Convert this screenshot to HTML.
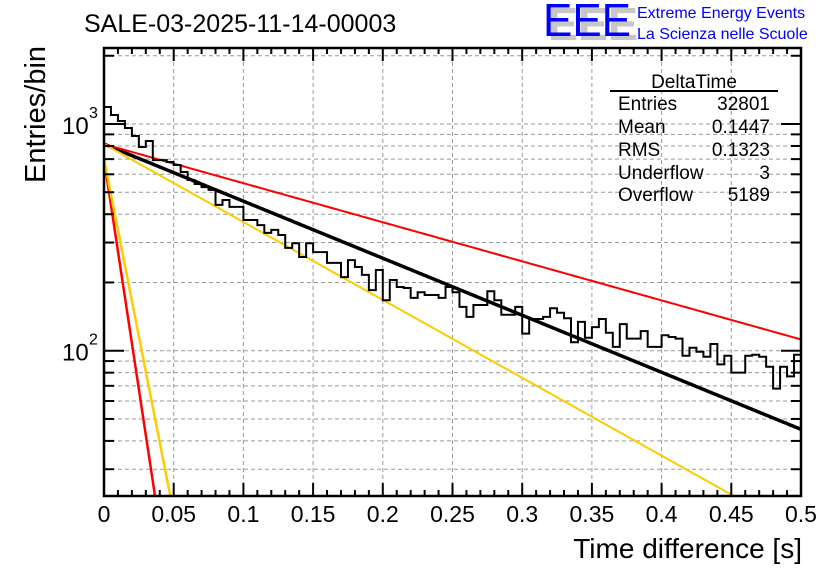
<!DOCTYPE html>
<html><head><meta charset="utf-8"><style>
html,body{margin:0;padding:0;background:#fff;}
svg{display:block;font-family:"Liberation Sans",sans-serif;}
</style></head><body>
<svg id="chart" width="836" height="572" viewBox="0 0 836 572">
<g id="grid"></g>
<g id="fits"></g>
<g id="hist"></g>
<g id="axes"></g>
<text x="84" y="32" font-size="25">SALE-03-2025-11-14-00003</text>
<g>
<text x="548" y="40" font-size="46" fill="#c8c8c8" font-weight="bold" textLength="90" lengthAdjust="spacingAndGlyphs">EEE</text>
<text x="543" y="36" font-size="46" fill="#0000ff" textLength="88" lengthAdjust="spacingAndGlyphs">EEE</text>
<text x="637" y="18" font-size="16" fill="#0000ff">Extreme Energy Events</text>
<text x="637" y="39" font-size="16" fill="#0000ff">La Scienza nelle Scuole</text>
</g>
<g font-size="19">
<text x="694" y="88" text-anchor="middle">DeltaTime</text>
<line x1="610" y1="91" x2="778" y2="91" stroke="#000" stroke-width="2"/>
<text x="618" y="110">Entries</text><text x="770" y="110" text-anchor="end">32801</text>
<text x="618" y="133">Mean</text><text x="770" y="133" text-anchor="end">0.1447</text>
<text x="618" y="156">RMS</text><text x="770" y="156" text-anchor="end">0.1323</text>
<text x="618" y="179">Underflow</text><text x="770" y="179" text-anchor="end">3</text>
<text x="618" y="201">Overflow</text><text x="770" y="201" text-anchor="end">5189</text>
</g>
<text x="802" y="558" font-size="28" text-anchor="end">Time difference [s]</text>
<text transform="translate(45,183) rotate(-90)" font-size="29">Entries/bin</text>
</svg>
<script>
const binCounts = [1189,1096,1031,960,885,792,841,693,693,680,
659,614,566,544,527,512,440,462,431,431,
377,377,358,331,341,324,284,298,259,298,
272,272,244,244,211,251,234,216,185,227,
167,205,191,189,171,181,176,176,171,191,
181,156,141,159,159,183,167,144,144,156,
119,138,138,141,154,147,139,109,134,114,
127,138,120,104,131,113,113,122,104,104,
117,115,113,95,103,99,94,107,87,95,
80,80,95,96,94,85,68,85,77,96];
const xRange = [0, 0.5];
const xTickLabels = ["0","0.05","0.1","0.15","0.2","0.25","0.3","0.35","0.4","0.45","0.5"];
const xTickValues = [0,0.05,0.1,0.15,0.2,0.25,0.3,0.35,0.4,0.45,0.5];
const yDecades = [2,3];
const fitAmps = [815,815,815,700,700];
const fitTaus = [0.1726,0.252,0.1264,0.0107,0.0139];
const fitColors = ["#000","#ff0000","#ffcc00","#ff0000","#ffcc00"];
const fitWidths = [3.5,2,2,2.5,2.5];
const fitNames = ["fit-total","fit-slow-red","fit-slow-yellow","fit-fast-red","fit-fast-yellow"];

const L=104,R=801,T=48,B=496;
const yTop3=124, dec=226.7;
const yMin=Math.pow(10,3-(B-yTop3)/dec), yMax=Math.pow(10,3+(yTop3-T)/dec);
const NS="http://www.w3.org/2000/svg";
function X(v){return L+(v-xRange[0])/(xRange[1]-xRange[0])*(R-L);}
function Y(v){return yTop3+(3-Math.log10(v))*dec;}
function mk(tag,attrs,parent){const e=document.createElementNS(NS,tag);for(const k in attrs)e.setAttribute(k,attrs[k]);parent.appendChild(e);return e;}
const grid=document.getElementById('grid'),axes=document.getElementById('axes'),hist=document.getElementById('hist'),fits=document.getElementById('fits');

// x grid + ticks
for(let i=0;i<xTickValues.length;i++){
  const x=X(xTickValues[i]);
  if(i>0&&i<xTickValues.length-1){const g=mk('line',{x1:x,y1:T,x2:x,y2:B,stroke:'#999','stroke-dasharray':'4,3','stroke-width':1},grid);
  
  }
  const t=mk('text',{x:x,y:522,'font-size':23,'text-anchor':'middle'},axes);
  t.textContent=xTickLabels[i];
  
  
}
for(let k=0;k<=50;k++){
  const x=X(k*0.01);const len=(k%5===0)?13:6;
  mk('line',{x1:x,y1:B,x2:x,y2:B-len,stroke:'#000','stroke-width':2},axes);
  mk('line',{x1:x,y1:T,x2:x,y2:T+len,stroke:'#000','stroke-width':2},axes);
}
// y ticks
for(let d=1;d<=3;d++){
  for(let m=1;m<=9;m++){
    const v=m*Math.pow(10,d);
    if(v<yMin||v>yMax)continue;
    const y=Y(v);const len=m===1?20:10;
    const g=mk('line',{x1:L,y1:y,x2:R,y2:y,stroke:'#999','stroke-dasharray':'4,3','stroke-width':1},grid);
    
    
    mk('line',{x1:L,y1:y,x2:L+len,y2:y,stroke:'#000','stroke-width':2},axes);
    mk('line',{x1:R,y1:y,x2:R-len,y2:y,stroke:'#000','stroke-width':2},axes);
  }
}
yDecades.forEach(d=>{
  const y=Y(Math.pow(10,d));
  const t=mk('text',{x:62,y:y+10,'font-size':24},axes);
  t.textContent='10';
  
  
  const s=mk('text',{x:89,y:y-6,'font-size':16},axes);s.textContent=String(d);
});
// frame
const fr=mk('rect',{x:L,y:T,width:R-L,height:B-T,fill:'none',stroke:'#000','stroke-width':2.5},axes);



// histogram
const n=binCounts.length,bw=(xRange[1]-xRange[0])/n;
let d='';
for(let i=0;i<n;i++){
  const x0=X(xRange[0]+i*bw),x1=X(xRange[0]+(i+1)*bw),y=Y(binCounts[i]);
  d+=(i===0?'M'+x0+','+y:'L'+x0+','+y)+'L'+x1+','+y;
}
const hp=mk('path',{d:d,fill:'none',stroke:'#000','stroke-width':2},hist);



// fits
const cp=mk('clipPath',{id:'plotclip'},fits);mk('rect',{x:L,y:T,width:R-L,height:B-T},cp);
for(let f=0;f<fitAmps.length;f++){
  let p='';
  for(let k=0;k<=400;k++){
    const t=xRange[0]+k/400*(xRange[1]-xRange[0]);
    const v=fitAmps[f]*Math.exp(-t/fitTaus[f]);
    if(v<yMin*0.5)break;
    p+=(k===0?'M':'L')+X(t).toFixed(2)+','+Y(v).toFixed(2);
  }
  const e=mk('path',{d:p,fill:'none',stroke:fitColors[f],'stroke-width':fitWidths[f],'clip-path':'url(#plotclip)'},fits);
  
  
}
</script>
</body></html>
